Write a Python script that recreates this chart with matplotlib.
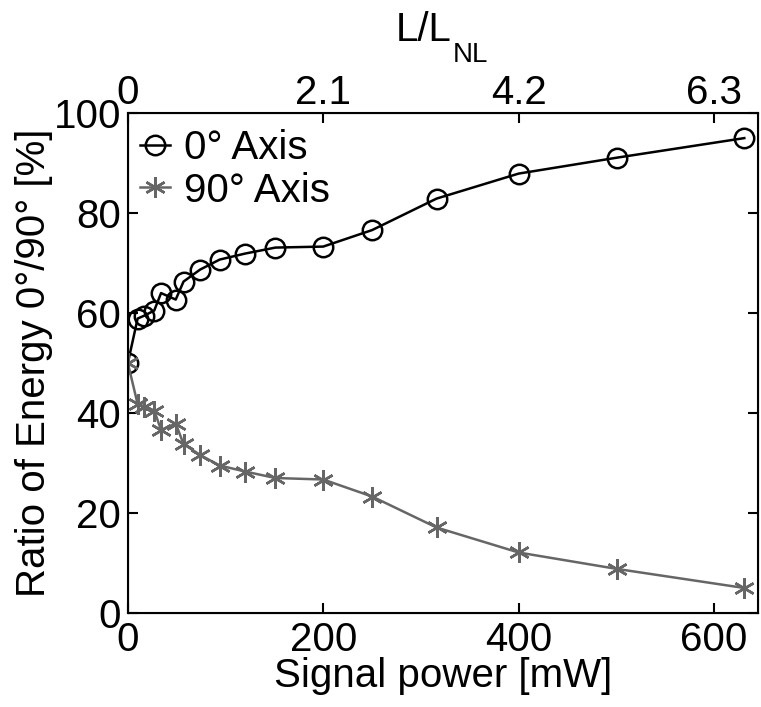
import matplotlib
matplotlib.use("Agg")
import matplotlib.pyplot as plt

plt.rcParams['font.family'] = ['Liberation Sans', 'DejaVu Sans']

# signal power [mW]
power = [0, 10, 17, 27, 34, 49, 57, 74, 94, 120, 151, 200, 250, 316, 400, 501, 631]
# ratio of energy [%]
axis_0 = [50, 58.9, 59.5, 60.5, 64, 62.7, 66.3, 68.7, 70.7, 71.9, 73.1, 73.3, 76.6, 82.9, 87.9, 91.1, 95.0]
axis_90 = [50, 41.8, 41.3, 40.5, 36.6, 37.9, 33.8, 31.6, 29.5, 28.3, 27.0, 26.7, 23.3, 17.1, 12.1, 8.8, 5.0]

top_ticks = [0, 200, 400, 600]
top_labels = ['0', '2.1', '4.2', '6.3']

fs = 29

fig = plt.figure(figsize=(7.61, 7.07), dpi=100)
ax = fig.add_axes([0.168, 0.133, 0.828, 0.707])

ax.plot(power, axis_0, color='black', lw=1.8, marker='o', ms=14,
        mfc='none', mew=1.8, label='0° Axis')
ax.plot(power, axis_90, color='#666666', lw=1.8, marker=(6, 2, 0), ms=15,
        mew=1.8, label='90° Axis')

ax.set_xlim(0, 645)
ax.set_ylim(0, 100)
ax.set_xticks([0, 200, 400, 600])
ax.set_yticks([0, 20, 40, 60, 80, 100])
ax.tick_params(direction='in', length=7, width=1.5, labelsize=fs, right=True)
ax.tick_params(axis='x', pad=6)
ax.tick_params(axis='y', pad=5)
for s in ax.spines.values():
    s.set_linewidth(1.5)

ax.set_xlabel('Signal power [mW]', fontsize=fs, labelpad=-2)
ax.set_ylabel('Ratio of Energy 0°/90° [%]', fontsize=fs, labelpad=0)

top = ax.twiny()
top.set_xlim(ax.get_xlim())
top.set_xticks(top_ticks)
top.set_xticklabels(top_labels)
top.tick_params(direction='in', length=7, width=1.5, labelsize=fs, pad=1)

# top axis label L/L_NL, subscript set lower like the original
top.text(0.514, 1.144, 'L/L', transform=top.transAxes, fontsize=fs,
         ha='right', va='baseline')
top.text(0.516, 1.102, 'NL', transform=top.transAxes, fontsize=20,
         ha='left', va='baseline')

ax.legend(loc='upper left', bbox_to_anchor=(0.0, 0.993), frameon=False,
          fontsize=fs, handlelength=0.75, handletextpad=0.35,
          borderaxespad=0.2, labelspacing=0.12, borderpad=0.1)

fig.savefig('out.png', dpi=100)
